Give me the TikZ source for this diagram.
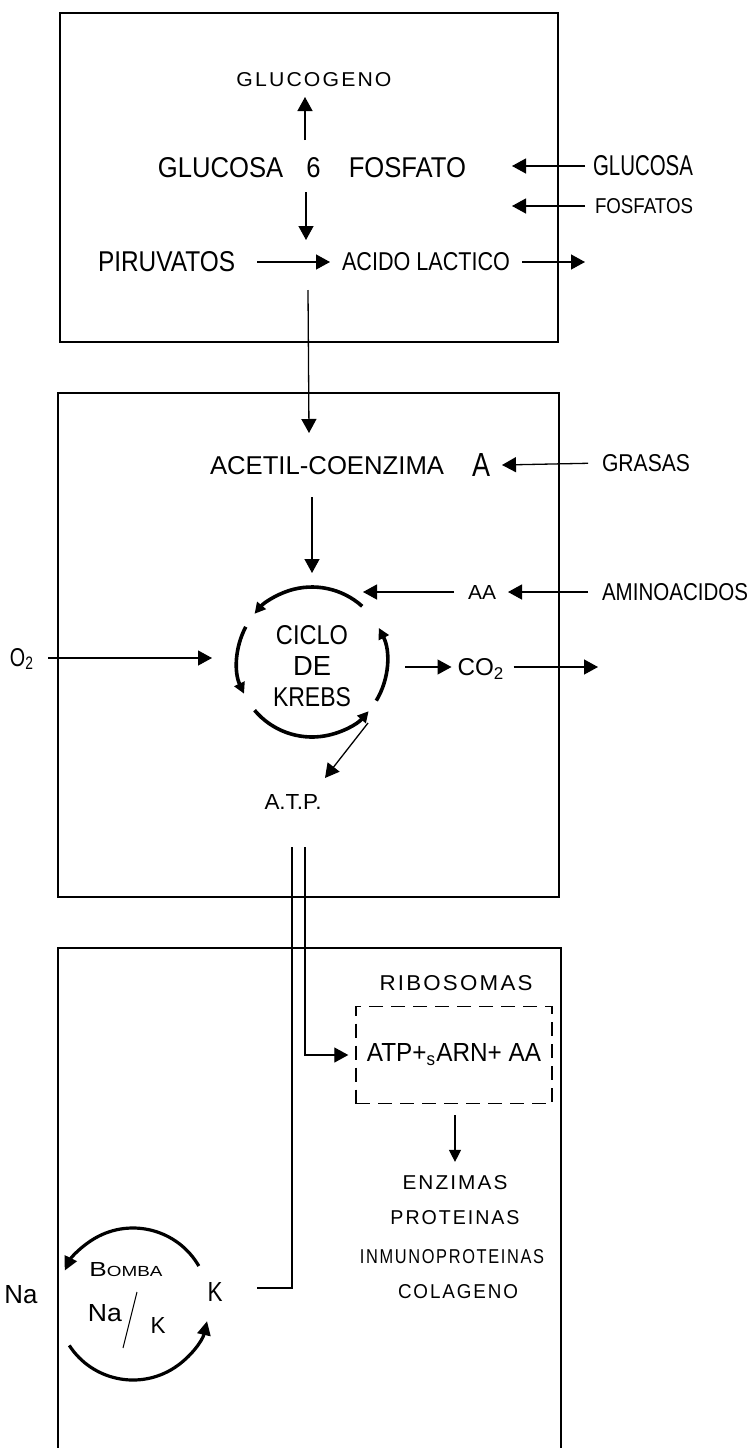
\documentclass[tikz,border=0pt]{standalone}
\usepackage{fontspec}
\setmainfont{Liberation Sans}
\newfontfamily\spc{Liberation Sans}[LetterSpace=10]
\usetikzlibrary{arrows.meta,calc}
\newcommand\fitt[3]{\resizebox{#1pt}{#2pt}{#3}}
\begin{document}
\begin{tikzpicture}[x=1pt,y=-1pt,
  box/.style={line width=1.4pt},
  lbl/.style={inner sep=0pt,outer sep=0pt},
  ln/.style={line width=1.3pt},
  arr/.style={line width=1.3pt,-{Triangle[length=14pt,width=15pt]}},
  sarr/.style={line width=1.1pt,-{Triangle[length=12pt,width=12pt]}},
  karc/.style={line width=3.6pt,-{Triangle[length=11pt,width=11pt]}},
  barc/.style={line width=3.2pt,-{Triangle[length=14pt,width=13pt]}},
  dbox/.style={draw,line width=1.4pt,dash pattern=on 14pt off 8pt,minimum width=196pt,minimum height=97pt,inner sep=0pt}]
\useasboundingbox (0,0) rectangle (752,1448);
\fill[white] (0,0) rectangle (752,1448);

% ---------- boxes
\draw[box] (60,13) rectangle (558,342);
\draw[box] (58,393) rectangle (559,897);
\draw[box] (58,1448) -- (58,948) -- (561,948) -- (561,1448);

% ---------- top box
\node[lbl] (glucogeno) at (314,80) {\fitt{155}{14}{\spc GLUCOGENO}};
\node[lbl] (g6p) at (312,168) {\fitt{308}{20}{GLUCOSA\hspace{0.9em}6\hspace{1.1em}FOSFATO}};
\node[lbl,anchor=west] (piruv) at (98,262) {\fitt{137}{20}{PIRUVATOS}};
\node[lbl,anchor=west] (acido) at (342,262) {\fitt{168}{18}{ACIDO LACTICO}};
\node[lbl,anchor=west] (glucosa) at (593,166) {\fitt{100}{20}{GLUCOSA}};
\node[lbl,anchor=west] (fosf) at (595,206) {\fitt{98}{15}{FOSFATOS}};

\coordinate (upA) at (305,140); \coordinate (upB) at (305,97);
\draw[arr] (upA) -- (upB);
\coordinate (dnA) at (306,192); \coordinate (dnB) at (306,240);
\draw[arr] (dnA) -- (dnB);
\draw[arr,shorten <=22pt,shorten >=12pt] (piruv.east) -- (acido.west);
\coordinate (lacOut) at (585,262);
\draw[arr,shorten <=12pt] (acido.east) -- (lacOut);
\coordinate (glcTip) at (512,166);
\draw[arr,shorten <=8pt] (glucosa.west) -- (glcTip);
\coordinate (fosTip) at (512,206);
\draw[arr,shorten <=10pt] (fosf.west) -- (fosTip);

% ---------- middle box
\node[lbl,anchor=west] (acetil) at (210,466) {\fitt{234}{18}{ACETIL-COENZIMA}};
\node[lbl] (acA) at (481,465) {\fitt{18}{23}{A}};
\node[lbl,anchor=west] (grasas) at (602,463) {\fitt{88}{17}{GRASAS}};
\coordinate (vTop) at (308,290); \coordinate (vTip) at (309,433);
\draw[arr] (vTop) -- (vTip);
\draw[arr,shorten <=14pt] (grasas.west) -- ($(acA.east)+(12,0)$);

\coordinate (kc) at (312,662);
\node[lbl,align=center,font=\fontsize{10}{31}\selectfont] (krebs) at (312,666)
  {\fitt{72}{19}{CICLO}\\\fitt{38}{19}{DE}\\\fitt{78}{19}{KREBS}};
\coordinate (acDn) at (312,497); \coordinate (acTip) at (312,573);
\draw[arr] (acDn) -- (acTip);
\draw[karc] (kc) ++(-48:75) arc[start angle=-48,end angle=-140,radius=75];
\draw[karc] (kc) ++(-152:75) arc[start angle=-152,end angle=-205,radius=75];
\draw[karc] (kc) ++(-220:75) arc[start angle=-220,end angle=-319,radius=75];
\draw[karc] (kc) ++(-329:75) arc[start angle=-329,end angle=-387,radius=75];

\node[lbl] (aa) at (482,592) {\fitt{28}{14}{AA}};
\node[lbl,anchor=west] (amino) at (602,592) {\fitt{146}{17}{AMINOACIDOS}};
\coordinate (aaTip) at (363,592);
\draw[arr,shorten <=14pt] (aa.west) -- (aaTip);
\draw[arr,shorten <=14pt,shorten >=12pt] (amino.west) -- (aa.east);

\node[lbl] (o2) at (22,659) {\fitt{24}{18}{O\textsubscript{2}}};
\coordinate (o2Tip) at (212,658);
\draw[arr,shorten <=14pt] (o2.east |- o2Tip) -- (o2Tip);
\node[lbl] (co2) at (481,669) {\fitt{47}{17}{CO\textsubscript{2}}};
\coordinate (co2Start) at (405,667); \coordinate (co2Out) at (598,667);
\draw[arr,shorten >=6pt] (co2Start) -- (co2Start -| co2.west);
\draw[arr,shorten <=9pt] (co2.east |- co2Out) -- (co2Out);

\node[lbl] (atp) at (293,802) {\fitt{57}{15}{A.T.P.}};
\coordinate (atpA) at (368,723); \coordinate (atpB) at (325,778);
\draw[arr] (atpA) -- (atpB);

% ---------- bottom box
\node[lbl] (ribo) at (456,983) {\fitt{153}{15}{\spc RIBOSOMAS}};
\node[dbox] (ribbox) at (454,1055) {\fitt{174}{18}{ATP+\textsubscript{s}ARN+ AA}};
\coordinate (l2top) at (305,847);
\draw[arr] (l2top) |- ([xshift=-7pt]ribbox.west);

\node[lbl] (enz) at (455,1183) {\fitt{105}{14}{\spc ENZIMAS}};
\node[lbl] (prot) at (455,1218) {\fitt{129}{14}{\spc PROTEINAS}};
\node[lbl] (inmu) at (452,1257) {\fitt{184}{14}{\spc INMUNOPROTEINAS}};
\node[lbl] (cola) at (458,1292) {\fitt{120}{14}{\spc COLAGENO}};
\draw[sarr,shorten <=11pt,shorten >=14pt] (ribbox.south -| enz) -- (enz.north);

\node[lbl] (naOut) at (21,1295) {\fitt{33}{18}{Na}};
\node[lbl] (kOut) at (215,1292) {\fitt{15}{19}{K}};
\node[lbl] (bomba) at (126,1270) {\fitt{73}{14}{B\scalebox{0.72}{OMBA}}};
\node[lbl] (naIn) at (105,1313) {\fitt{34}{17}{Na}};
\node[lbl] (kIn) at (158,1325) {\fitt{15}{16}{K}};
\coordinate (slA) at (137,1292); \coordinate (slB) at (123,1348);
\draw[line width=1pt] (slA) -- (slB);
\coordinate (l1top) at (292,847); \coordinate (l1start) at (257,1288);
\draw[ln] (l1start) -| (l1top);

\coordinate (bc) at (133,1304);
\draw[barc] (bc) ++(-30:76) arc[start angle=-30,end angle=-154,radius=76];
\draw[barc] (bc) ++(-213:76) arc[start angle=-213,end angle=-347,radius=76];
\end{tikzpicture}
\end{document}
